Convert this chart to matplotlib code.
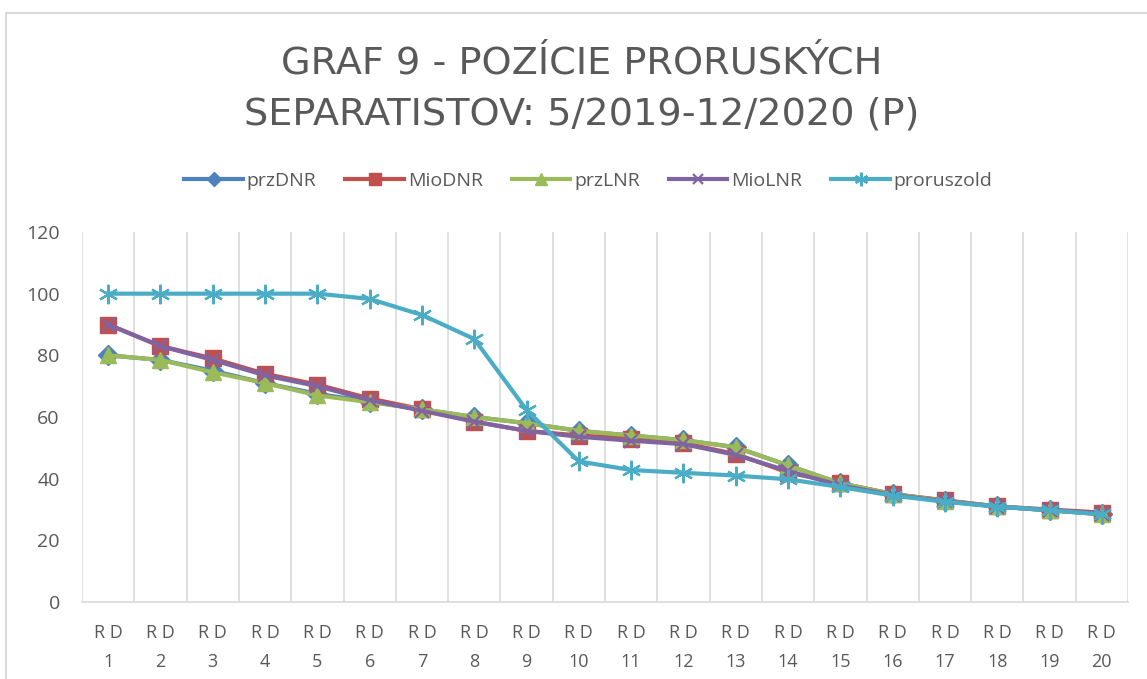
import matplotlib
matplotlib.use("Agg")
import matplotlib.pyplot as plt
from matplotlib.patches import Rectangle

categories = ["R D\n%d" % i for i in range(1, 21)]

przDNR = [80, 78.5, 75, 71, 67.5, 65, 62.5, 60, 58, 55.5, 54, 52.5, 50.2, 44.3, 38.5, 35, 32.8, 31, 29.7, 28.5]
MioDNR = [90, 83, 79, 74, 70.5, 66, 62.5, 58.5, 55.5, 54, 53, 51.5, 48, 42, 38.5, 35, 33, 31, 30, 29]
przLNR = [80, 78.5, 74.5, 71, 67, 64.8, 62.5, 60, 58, 55.5, 54, 52.5, 50.2, 44.3, 38.5, 35, 32.8, 31, 29.7, 28.5]
MioLNR = [90, 83, 78.5, 73.5, 70, 65.5, 62, 58.5, 55.5, 53.6, 52.3, 51.2, 47.7, 42.5, 37.8, 34.7, 32.7, 30.9, 29.8, 28.7]
proruszold = [100, 100, 100, 100, 100, 98.3, 93.1, 85.3, 62.3, 45.6, 42.8, 41.9, 41, 39.8, 37.3, 34.5, 32.5, 30.9, 29.8, 28.4]

series = [
    ("przDNR", przDNR, "#4F81BD", "D", 10),
    ("MioDNR", MioDNR, "#C0504D", "s", 11.5),
    ("przLNR", przLNR, "#9BBB59", "^", 12),
    ("MioLNR", MioLNR, "#8064A2", "x", 11),
    ("proruszold", proruszold, "#4BACC6", "*", 14),
]

FONT = "Open Sans"
TXT = "#595959"

fig = plt.figure(figsize=(11.47, 6.79), dpi=100)
W, H = 1147, 679
ax = fig.add_axes([82 / W, 1 - 602 / H, (1128 - 82) / W, (602 - 232) / H])

x = list(range(1, 21))
handles = []
for name, vals, col, mk, ms in series:
    if mk == "*":
        ln, = ax.plot(x, vals, color=col, lw=3, marker=(6, 2, 0), ms=ms, mew=1.6,
                      mec=col, label=name, zorder=3)
    elif mk == "x":
        ln, = ax.plot(x, vals, color=col, lw=3, marker="x", ms=ms * 0.9, mew=1.6,
                      mec=col, label=name, zorder=3)
    else:
        ln, = ax.plot(x, vals, color=col, lw=3, marker=mk, ms=ms, mec=col, mfc=col,
                      label=name, zorder=3)
    handles.append(ln)

ax.set_xlim(0.5, 20.5)
ax.set_ylim(0, 120)
ax.set_yticks(range(0, 121, 20))
ax.set_xticks(x)
ax.set_xticklabels(categories, fontfamily=FONT, fontsize=13, color=TXT, linespacing=1.75)
ax.set_xticks([i + 0.5 for i in range(0, 21)], minor=True)
ax.grid(False)
ax.grid(True, which="minor", axis="x", color="#D9D9D9", lw=1.2)
ax.tick_params(axis="both", which="both", length=0)
ax.tick_params(axis="x", pad=16)
ax.tick_params(axis="y", pad=16)
for lab in ax.get_yticklabels():
    lab.set_fontfamily(FONT)
    lab.set_fontsize(14)
    lab.set_color(TXT)
for s in ["top", "right", "left"]:
    ax.spines[s].set_visible(False)
ax.spines["bottom"].set_color("#D9D9D9")
ax.spines["bottom"].set_linewidth(1.2)

TFONT = ["DejaVu Sans"]
fig.text(0.507, 1 - 63 / H, "GRAF 9 - POZÍCIE PRORUSKÝCH", ha="center", va="center",
         fontfamily=TFONT, fontsize=27.5, color=TXT)
fig.text(0.507, 1 - 115 / H, "SEPARATISTOV: 5/2019-12/2020 (P)", ha="center", va="center",
         fontfamily=TFONT, fontsize=27.5, color=TXT)

fig.legend(handles=handles, loc="center", bbox_to_anchor=(0.513, 1 - 181 / H), ncol=5,
           frameon=False, prop={"family": FONT, "size": 14}, labelcolor=TXT,
           handlelength=3, columnspacing=1.5, handletextpad=0.2, markerscale=0.7)

fig.patches.append(Rectangle((6 / W, -0.01), 1.1, 1 - 13 / H + 0.01, transform=fig.transFigure,
                             fill=False, edgecolor="#D9D9D9", lw=1.5))

fig.savefig("out.png", dpi=100)
